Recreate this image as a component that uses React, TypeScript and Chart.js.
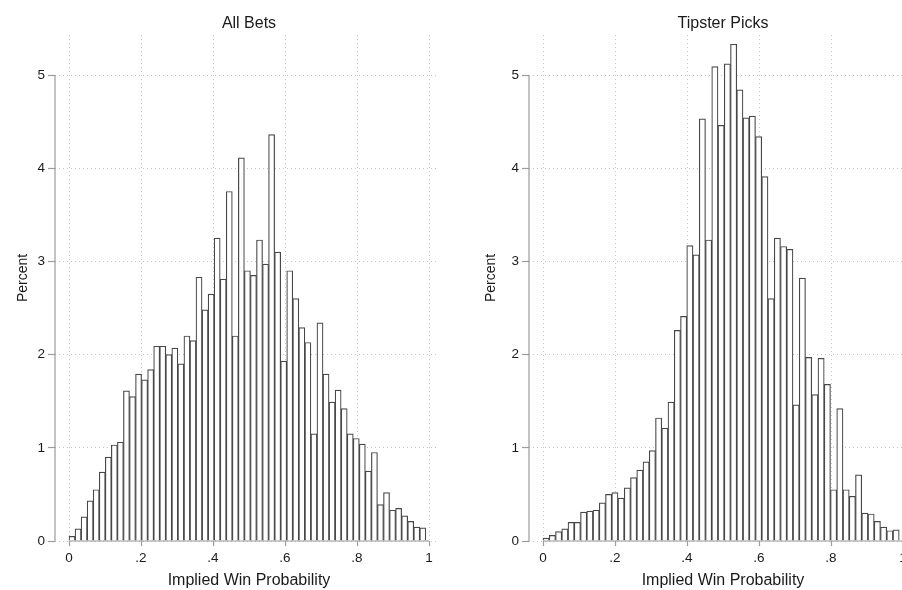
import React, { useEffect, useRef } from 'react';
import { Chart, registerables } from 'chart.js';

Chart.register(...registerables);

// Histogram bar heights (percent), one value per bin, left to right
const allBetsPercent = [
  0.05, 0.13, 0.26, 0.43, 0.55, 0.74, 0.9, 1.03, 1.06, 1.61,
  1.55, 1.79, 1.73, 1.84, 2.09, 2.09, 2.0, 2.07, 1.9, 2.2,
  2.15, 2.83, 2.48, 2.65, 3.25, 2.81, 3.75, 2.2, 4.11, 2.9,
  2.85, 3.23, 2.97, 4.36, 3.1, 1.93, 2.9, 2.6, 2.29, 2.13,
  1.15, 2.34, 1.79, 1.49, 1.62, 1.42, 1.15, 1.1, 1.04, 0.75,
  0.95, 0.39, 0.52, 0.33, 0.35, 0.27, 0.21, 0.15, 0.14,
];
const tipsterPercent = [
  0.03, 0.06, 0.1, 0.13, 0.2, 0.2, 0.31, 0.32, 0.33, 0.41,
  0.5, 0.52, 0.46, 0.57, 0.68, 0.76, 0.85, 0.97, 1.32, 1.21,
  1.49, 2.26, 2.41, 3.17, 3.07, 4.53, 3.23, 5.09, 4.46, 5.12,
  5.33, 4.84, 4.54, 4.56, 4.34, 3.91, 2.6, 3.25, 3.16, 3.13,
  1.46, 2.82, 1.97, 1.57, 1.96, 1.68, 0.55, 1.42, 0.55, 0.48,
  0.71, 0.3, 0.29, 0.21, 0.15, 0.11, 0.12,
];
const binStart = 0;
const allBetsBinWidth = 0.0168;
const tipsterBinWidth = 0.01736;

const xTickValues = [0, 0.2, 0.4, 0.6, 0.8, 1];
const xTickLabels = ['0', '.2', '.4', '.6', '.8', '1'];
const yTickValues = [0, 1, 2, 3, 4, 5];
const yTickLabels = ['0', '1', '2', '3', '4', '5'];
const panelTitles = ['All Bets', 'Tipster Picks'];
const xAxisTitle = 'Implied Win Probability';
const yAxisTitle = 'Percent';

const FONT = '"Liberation Sans", Arial, Helvetica, sans-serif';
const TEXT = '#1a1a1a';
const AXIS = '#9c9c9c';
const GRID = '#c4c4c4';

type PanelProps = {
  title: string;
  values: number[];
  binWidth: number;
  left: number;
  yTitleX: number;
};

function Panel({ title, values, binWidth, left, yTitleX }: PanelProps) {
  const ref = useRef<HTMLCanvasElement | null>(null);

  useEffect(() => {
    if (!ref.current) return;
    const points = values.map((v, i) => ({ x: binStart + (i + 0.5) * binWidth, y: v }));

    const decor = {
      id: 'decor',
      afterDatasetsDraw(chart: any) {
        const { ctx, chartArea, scales } = chart;
        const x = scales.x;
        const y = scales.y;
        ctx.save();
        ctx.strokeStyle = AXIS;
        ctx.lineWidth = 1.2;
        ctx.beginPath();
        ctx.moveTo(chartArea.left, y.getPixelForValue(0));
        ctx.lineTo(chartArea.left, y.getPixelForValue(5));
        ctx.moveTo(x.getPixelForValue(0), y.getPixelForValue(0));
        ctx.lineTo(x.getPixelForValue(1), y.getPixelForValue(0));
        ctx.stroke();
        ctx.restore();
      },
      afterDraw(chart: any) {
        const { ctx, scales } = chart;
        const x = scales.x;
        const cx = (x.getPixelForValue(0) + x.getPixelForValue(1)) / 2;
        ctx.save();
        ctx.fillStyle = TEXT;
        ctx.textAlign = 'center';
        ctx.textBaseline = 'alphabetic';
        ctx.font = `16px ${FONT}`;
        ctx.fillText(title, cx, 28);
        ctx.fillText(xAxisTitle, cx, 585);
        ctx.translate(yTitleX, 278);
        ctx.rotate(-Math.PI / 2);
        ctx.textBaseline = 'middle';
        ctx.font = `14px ${FONT}`;
        ctx.fillText(yAxisTitle, 0, 0);
        ctx.restore();
      },
    };

    const chart = new Chart(ref.current, {
      type: 'bar',
      data: {
        datasets: [
          {
            data: points as any,
            backgroundColor: '#ffffff',
            borderColor: '#474747',
            borderWidth: 1.2,
            categoryPercentage: 1,
            barPercentage: 1,
          },
        ],
      },
      options: {
        responsive: false,
        animation: false,
        events: [],
        layout: { padding: { top: 35, right: 37, bottom: 0, left: 0 } },
        plugins: { legend: { display: false }, tooltip: { enabled: false }, title: { display: false } },
        scales: {
          x: {
            type: 'linear',
            offset: false,
            min: -14 / 360,
            max: -14 / 360 + 382 / 360,
            afterBuildTicks: (s: any) => {
              s.ticks = xTickValues.map((v) => ({ value: v }));
            },
            afterFit: (s: any) => {
              s.height = 49;
            },
            ticks: {
              autoSkip: false,
              maxRotation: 0,
              padding: 4,
              color: TEXT,
              font: { family: FONT, size: 13.5 },
              callback: (_v: any, i: number) => xTickLabels[i],
            },
            grid: { color: GRID, tickColor: AXIS, tickLength: 5, tickWidth: 1.2, offset: false },
            border: { display: false, dash: [1, 3] },
          },
          y: {
            type: 'linear',
            min: 0,
            max: 506 / 93.2,
            afterBuildTicks: (s: any) => {
              s.ticks = yTickValues.map((v) => ({ value: v }));
            },
            afterFit: (s: any) => {
              s.width = 55;
            },
            ticks: {
              padding: 3,
              color: TEXT,
              font: { family: FONT, size: 13.5 },
              callback: (_v: any, i: number) => yTickLabels[i],
            },
            grid: { color: GRID, tickColor: AXIS, tickLength: 7, tickWidth: 1.2 },
            border: { display: false, dash: [1, 3] },
          },
        },
      },
      plugins: [decor],
    } as any);

    return () => chart.destroy();
  }, [title, values, binWidth, yTitleX]);

  return (
    <canvas
      ref={ref}
      width={474}
      height={590}
      style={{ position: 'absolute', left, top: 0, width: 474, height: 590 }}
    />
  );
}

export default function App() {
  return (
    <div
      style={{
        position: 'fixed',
        left: 0,
        top: 0,
        width: 902,
        height: 590,
        overflow: 'hidden',
        background: '#ffffff',
      }}
    >
      <Panel title={panelTitles[0]} values={allBetsPercent} binWidth={allBetsBinWidth} left={0} yTitleX={23} />
      <Panel title={panelTitles[1]} values={tipsterPercent} binWidth={tipsterBinWidth} left={474} yTitleX={17} />
    </div>
  );
}
